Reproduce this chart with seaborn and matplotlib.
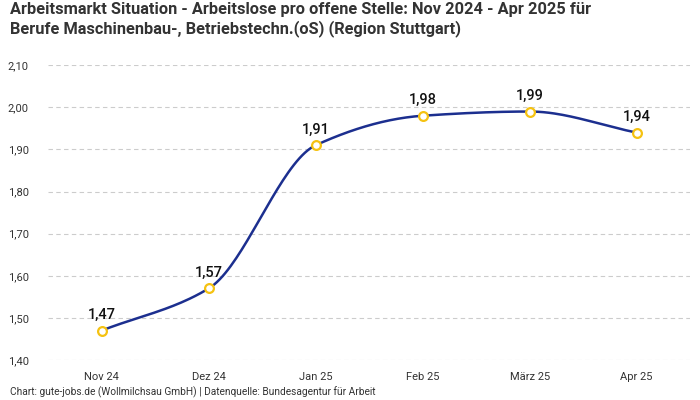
import numpy as np
import pandas as pd
import matplotlib
matplotlib.use("Agg")
import matplotlib.pyplot as plt
import seaborn as sns

months = ["Nov 24", "Dez 24", "Jan 25", "Feb 25", "März 25", "Apr 25"]
values = [1.47, 1.57, 1.91, 1.98, 1.99, 1.94]
y_ticks = [1.40, 1.50, 1.60, 1.70, 1.80, 1.90, 2.00, 2.10]

title = ("Arbeitsmarkt Situation - Arbeitslose pro offene Stelle: Nov 2024 - Apr 2025 für\n"
         "Berufe Maschinenbau-, Betriebstechn.(oS) (Region Stuttgart)")
footer = "Chart: gute-jobs.de (Wollmilchsau GmbH) | Datenquelle: Bundesagentur für Arbeit"

sns.set_theme(style="white")
plt.rcParams['font.family'] = ['Roboto', 'DejaVu Sans']

LINE = "#1c2f8f"
GOLD = "#f5c211"


def monotone_curve(xs, ys, n=40):
    xs = np.asarray(xs, float); ys = np.asarray(ys, float)
    h = np.diff(xs); d = np.diff(ys) / h
    m = np.zeros_like(ys)
    m[0] = d[0]; m[-1] = d[-1]
    for i in range(1, len(ys) - 1):
        if d[i - 1] * d[i] <= 0:
            m[i] = 0
        else:
            w1 = 2 * h[i] + h[i - 1]; w2 = h[i] + 2 * h[i - 1]
            m[i] = (w1 + w2) / (w1 / d[i - 1] + w2 / d[i])
    px, py = [], []
    for i in range(len(xs) - 1):
        t = np.linspace(0, 1, n)
        h00 = 2*t**3 - 3*t**2 + 1; h10 = t**3 - 2*t**2 + t
        h01 = -2*t**3 + 3*t**2; h11 = t**3 - t**2
        px.extend(xs[i] + t * h[i])
        py.extend(h00*ys[i] + h10*h[i]*m[i] + h01*ys[i+1] + h11*h[i]*m[i+1])
    return np.array(px), np.array(py)


fig = plt.figure(figsize=(7, 4), dpi=100)
ax = fig.add_axes([0.069, 0.1, 0.917, 0.737])

xpos = np.arange(len(months))
cx, cy = monotone_curve(xpos, values)
sns.lineplot(x=cx, y=cy, ax=ax, color=LINE, linewidth=1.8, sort=False, zorder=2)
df = pd.DataFrame({"x": xpos, "v": values})
sns.scatterplot(data=df, x="x", y="v", ax=ax, s=40, facecolor="white",
                edgecolor=GOLD, linewidth=1.6, zorder=3)

for x, v in zip(xpos, values):
    ax.annotate(f"{v:.2f}".replace(".", ","), (x, v), xytext=(0, 6),
                textcoords="offset points", ha="center", va="bottom",
                fontsize=10.5, fontweight="medium", color="#111111")

ax.set_xlim(-0.5, len(months) - 0.5)
ax.set_ylim(1.40, 2.10)
ax.set_xticks(xpos)
ax.set_xticklabels(months)
ax.set_yticks(y_ticks)
ax.set_yticklabels([f"{t:.2f}".replace(".", ",") for t in y_ticks])
ax.tick_params(axis="both", length=0, labelsize=8, colors="#333333")
ax.tick_params(axis="x", pad=9)
ax.tick_params(axis="y", pad=14)
ax.set_xlabel(""); ax.set_ylabel("")
ax.grid(axis="y", color="#cccccc", linestyle=(0, (4, 3)), linewidth=0.8)
ax.set_axisbelow(True)
for s in ax.spines.values():
    s.set_visible(False)

fig.text(0.014, 0.995, title, ha="left", va="top", fontsize=11.8,
         fontweight="bold", color="#333333", linespacing=1.2,
         family=['Roboto', 'DejaVu Sans'])
fig.text(0.014, 0.006, footer, ha="left", va="bottom", fontsize=7.3, color="#333333")

fig.savefig("out.png", dpi=100)
